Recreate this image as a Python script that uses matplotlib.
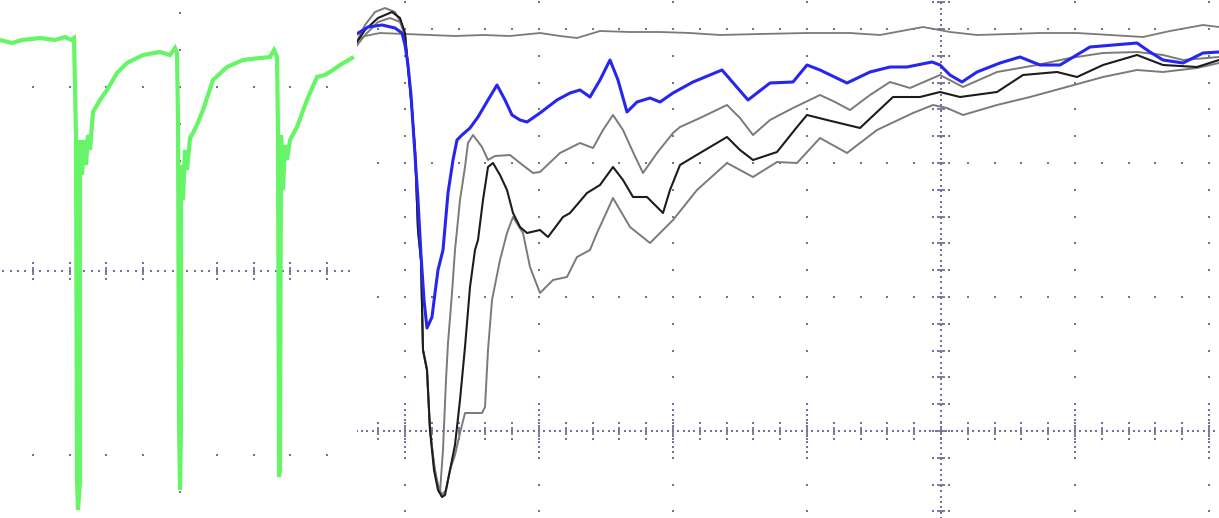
import numpy as np
import matplotlib.pyplot as plt

# Left screen: one trace, samples from screen centre, amplitude in counts (184 counts / div)
t_green = [-180, -168, -158, -140, -125, -115, -109, -106, -104, -103, -102, -100, -100, -98, -96, -94,
           -92, -90, -87, -80, -73, -63, -53, -37, -20, -10, -5, -3, -2, -1, 0, 1, 1, 3, 5, 7, 10, 13,
           17, 23, 33, 47, 63, 80, 90, 94, 97, 98, 99, 100, 101, 103, 105, 107, 110, 117, 127, 137,
           145, 153, 160, 172]
v_green = [231, 228, 231, 233, 231, 234, 231, 233, 136, -209, -239, -209, 131, 96, 131, 106,
           136, 121, 159, 171, 181, 198, 208, 216, 219, 216, 223, 218, 151, -149, -219, -159, 106, 71,
           121, 101, 133, 138, 146, 161, 191, 204, 211, 213, 214, 221, 214, 141, -206, -199, 136, 81,
           126, 111, 131, 144, 171, 194, 196, 201, 206, 213]

# Right screen: samples from trigger, amplitude in counts (134 counts / div)
t_ref = [-586, -576, -561, -536, -511, -486, -458, -431, -401, -381, -364, -341, -311, -281, -251,
         -221, -181, -134, -91, -61, -18, 9, 36, 69, 99, 136, 169, 202, 229, 262, 278]
v_ref = [389, 395, 398, 397, 396, 395, 396, 395, 398, 395, 393, 400, 399, 399, 398,
         396, 397, 398, 398, 396, 404, 399, 396, 397, 398, 398, 396, 394, 400, 406, 404]

t_blue = [-586, -573, -559, -546, -539, -536, -533, -530, -527, -523, -520, -517, -514, -509, -506,
          -503, -498, -493, -488, -484, -479, -471, -463, -453, -444, -436, -429, -421, -414, -401,
          -384, -371, -361, -351, -341, -331, -323, -314, -304, -291, -281, -268, -248, -219, -206,
          -193, -171, -148, -134, -121, -94, -71, -51, -34, -9, -1, 9, 21, 36, 59, 79, 99, 119, 149,
          196, 209, 222, 242, 262, 278]
v_blue = [396, 404, 406, 403, 398, 386, 366, 336, 291, 231, 176, 131, 103, 114, 138,
          161, 181, 238, 271, 291, 296, 303, 314, 331, 346, 331, 316, 311, 309, 318,
          331, 338, 341, 334, 351, 371, 351, 319, 329, 333, 329, 338, 349, 361, 346,
          331, 348, 349, 366, 361, 348, 359, 364, 364, 369, 366, 356, 349, 359, 368, 374, 366, 366, 384,
          388, 379, 371, 368, 378, 379]

t_gray1 = [-586, -576, -566, -556, -546, -539, -536, -533, -529, -526, -523, -520, -518, -514, -511,
           -508, -505, -501, -498, -495, -493, -489, -486, -481, -476, -473, -468, -459, -453, -446,
           -431, -421, -408, -401, -381, -361, -348, -338, -328, -318, -308, -298, -284, -268, -261,
           -241, -214, -201, -188, -171, -148, -121, -106, -91, -71, -51, -31, -1, 22, 56, 96, 129,
           162, 196, 222, 242, 278]
v_gray1 = [386, 406, 419, 423, 419, 406, 396, 364, 321, 281, 201, 171, 81, 61, 1,
           -24, -47, -61, -19, 51, 88, 138, 181, 231, 264, 288, 296, 284, 271, 275,
           276, 268, 258, 259, 278, 288, 283, 301, 316, 301, 279, 258, 278, 298, 304,
           313, 326, 313, 296, 311, 323, 336, 329, 321, 336, 349, 343, 356, 344, 359, 366, 373,
           378, 379, 376, 371, 374]

t_black = [-586, -576, -563, -549, -541, -536, -533, -529, -526, -523, -520, -518, -514, -511, -507,
           -503, -499, -496, -491, -486, -481, -476, -471, -466, -463, -458, -453, -448, -441, -434,
           -428, -421, -414, -401, -393, -378, -371, -354, -341, -328, -318, -308, -294, -278, -271,
           -261, -241, -214, -201, -188, -164, -144, -134, -114, -81, -48, -21, -1, 19, 56, 82, 116,
           136, 162, 196, 222, 256, 278]
v_black = [386, 401, 413, 419, 413, 398, 364, 321, 281, 201, 171, 81, 61, 1, -39,
           -59, -66, -64, -39, -14, 31, 84, 144, 181, 191, 231, 264, 268, 256, 241,
           218, 204, 198, 201, 194, 214, 218, 238, 246, 264, 251, 234, 234, 218, 241,
           266, 278, 294, 281, 271, 279, 304, 316, 311, 303, 334, 334, 339, 334, 339, 356, 359,
           354, 366, 376, 366, 364, 371]

t_gray2 = [-586, -576, -563, -551, -541, -536, -533, -529, -526, -523, -520, -518, -514, -511, -507,
           -503, -499, -495, -491, -486, -481, -476, -459, -456, -453, -449, -441, -434, -428, -418,
           -411, -401, -388, -374, -364, -351, -344, -328, -311, -291, -268, -244, -214, -188, -164,
           -144, -121, -94, -64, -28, -8, 6, 22, 56, 89, 122, 162, 196, 222, 256, 278]
v_gray2 = [383, 396, 409, 413, 409, 396, 364, 321, 281, 201, 171, 81, 61, 1, -34,
           -54, -64, -59, -39, -24, -2, 18, 18, 24, 81, 131, 171, 198, 214, 198,
           164, 138, 151, 154, 174, 181, 198, 233, 204, 188, 211, 241, 268, 254, 269,
           268, 293, 278, 301, 318, 326, 323, 316, 326, 334, 343, 354, 361, 359, 363, 368]

GRID = '#72729c'


def screen_grid(ax, div, xlim, ylim, cols, rows):
    minor = div / 5
    dot = dict(ls='none', marker='s', ms=1.5, mew=0, color=GRID, zorder=1)
    kx = np.arange(np.floor(xlim[0] / minor), np.ceil(xlim[1] / minor) + 1) * minor
    ky = np.arange(np.floor(ylim[0] / minor), np.ceil(ylim[1] / minor) + 1) * minor
    for r in rows:
        ax.plot(kx, np.full_like(kx, r), **dot)
    for c in cols:
        ax.plot(np.full_like(ky, c), ky, **dot)
        near = np.arange(-4, 5) * minor / 5
        ax.plot(np.full_like(near, c), near, **dot)
    # dense centre axis with tick bars
    fx = np.arange(np.floor(xlim[0] / minor) * 5, np.ceil(xlim[1] / minor) * 5 + 1) * minor / 5
    ax.plot(fx, np.zeros_like(fx), **dot)
    ax.vlines(kx, -4, 4, color=GRID, lw=1.3, zorder=1)
    ax.plot(kx, np.full_like(kx, 8), **dot)
    ax.plot(kx, np.full_like(kx, -8), **dot)
    return ky


fig = plt.figure(figsize=(12.19, 5.18), dpi=100)

# left screen
axl = fig.add_axes([0, 0, 355 / 1219, 1])
xl, yl = (-180, 175), (-247, 271)
screen_grid(axl, 184, xl, yl, cols=[0], rows=[184, -184])
axl.plot(t_green, v_green, color='#66f566', lw=3.0, solid_joinstyle='miter', zorder=3)
axl.set_xlim(*xl)
axl.set_ylim(*yl)
axl.axis('off')

# right screen
axr = fig.add_axes([357 / 1219, 0, 862 / 1219, 1])
xr, yr = (-584, 278), (-87, 431)
ky = screen_grid(axr, 134, xr, yr, cols=[-536, -402, -268, -134, 134, 268], rows=[134, 268, 402])
# dense centre vertical with tick bars
fy = np.arange(yr[0], yr[1] + 1, 134 / 25)
axr.plot(np.zeros_like(fy), fy, ls='none', marker='s', ms=1.5, mew=0, color=GRID, zorder=1)
axr.hlines(ky, -4, 4, color=GRID, lw=1.3, zorder=1)
axr.plot(np.full_like(ky, 8), ky, ls='none', marker='s', ms=1.5, mew=0, color=GRID, zorder=1)
axr.plot(np.full_like(ky, -8), ky, ls='none', marker='s', ms=1.5, mew=0, color=GRID, zorder=1)

axr.plot(t_ref, v_ref, color='#7a7a7a', lw=1.3, zorder=2)
axr.plot(t_gray2, v_gray2, color='#7a7a7a', lw=1.4, zorder=2)
axr.plot(t_gray1, v_gray1, color='#7a7a7a', lw=1.4, zorder=2)
axr.plot(t_black, v_black, color='#1c1c1c', lw=1.5, zorder=3)
axr.plot(t_blue, v_blue, color='#2626ee', lw=2.2, zorder=4)
axr.set_xlim(*xr)
axr.set_ylim(*yr)
axr.axis('off')

fig.savefig('out.png', dpi=100)
